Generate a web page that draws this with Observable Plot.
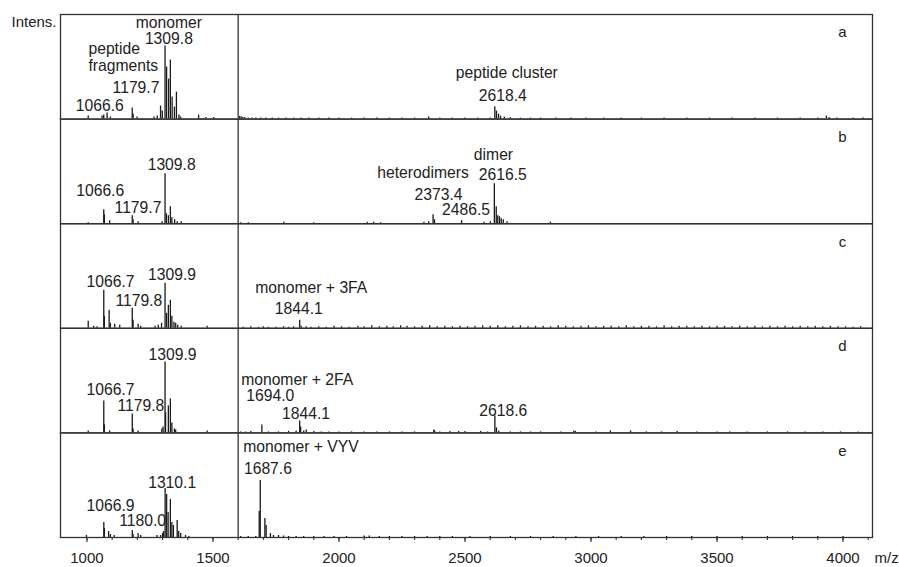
<!DOCTYPE html>
<html><head><meta charset="utf-8">
<script src="https://cdn.jsdelivr.net/npm/d3@7"></script>
<script src="https://cdn.jsdelivr.net/npm/@observablehq/plot@0.6"></script>
<style>
body{margin:0;background:#fff;}
</style>
</head><body><div id="chart"></div>
<script>
const panels = ["a","b","c","d","e"];

// [m/z, intensity] per spectrum
const peaksA = [[1005,3],[1060,3],[1066.6,4],[1080,6],[1093,2],[1179.7,11],[1183,5],[1199,2],[1266,2],[1279,3],[1292,13],[1299,8],[1309.8,73],[1316,52],[1324,40],[1331,59],[1338,22],[1347,12],[1355,27],[1365,4],[1372,2],[1443,4],[1472,1.5],[1503,1.5],
  [1606,2.5],[1612,2],[1618,1.5],[1626,1.5],[1640,1],[1655,1],[1670,1],[1690,1],[1710,1],[1735,1],[1760,1],[1790,1],[1820,1],[1850,1.2],[1880,1],[1920,1],[1960,1],[2000,1],[2050,1],[2100,1],[2150,1],[2200,1],[2250,1],[2300,1],[2356,2],[2400,1],[2450,1],[2500,1],[2550,1],[2600,1],[2618.4,12.3],[2625,8],[2633,5],[2641,3],[2656,2],[2680,1.5],[2720,1],[2760,1],[2800,1],[2860,1],[2920,1],[2980,1],[3050,1],[3120,1],[3200,1],[3290,1],[3380,1],[3470,1],[3560,1],[3650,1],[3740,1],[3830,1],[3900,1],[3934,3],[3945,1.5],[3975,1],[4040,1],[4080,1]];
const peaksB = [[1005,1],[1066.6,14],[1069,9],[1090,3],[1179.7,8],[1183,4],[1203,2],[1298,2],[1309.8,50],[1315,10],[1323,8],[1331,17],[1337,6],[1348,4],[1358,2],[1374,2],
  [1610,1],[1640,1],[1781,1.5],[1900,1],[2112,1.5],[2138,1.5],[2165,1],[2337,1.5],[2356,2],[2373.4,9],[2379,4],[2486.5,3],[2575,1.5],[2601,2],[2616.5,40],[2624,17],[2630,8],[2637,7],[2644,5],[2652,4],[2667,2],[2839,1.5]];
const peaksC = [[1005,7],[1027,2],[1040,1.5],[1066.7,38],[1069,12],[1088,18],[1093,5],[1110,4],[1130,3],[1179.8,20],[1183,8],[1203,4],[1213,2],[1270,2],[1283,3],[1296,5],[1309.9,45],[1316,15],[1323,23],[1331,28],[1337,12],[1345,6],[1352,5],[1360,3],[1374,2],[1477,2],
  [1620,1],[1650,1.5],[1680,1],[1700,1.5],[1720,1],[1750,1],[1780,1.5],[1800,1],[1820,1.5],[1844.1,8],[1850,2],[1870,1.5],[1890,1],[1920,1.5],[1950,1],[1980,2],[2010,1.5],[2040,1],[2075,2],[2100,1.5],[2130,2.5],[2160,1.5],[2190,2],[2215,1.5],[2245,2.5],[2270,2],[2300,1.5],[2330,2],[2360,2.5],[2390,1.5],[2420,2],[2450,1.5],[2480,2],[2510,1.5],[2540,2],[2570,2.5],[2600,2],[2630,2.5],[2660,1.5],[2690,2],[2720,2.5],[2750,1.5],[2780,2],[2810,2],[2840,1.5],[2870,2.5],[2900,2],[2930,1.5],[2960,2],[2990,2.5],[3020,1.5],[3050,2],[3080,2],[3110,1.5],[3140,2.5],[3170,1.5],[3200,2],[3230,2],[3260,1.5],[3290,2.5],[3320,1.5],[3350,2],[3380,2],[3410,1.5],[3440,2],[3470,1.5],[3500,2],[3530,2],[3560,1.5],[3590,2],[3620,1.5],[3650,2],[3680,1.5],[3710,2],[3740,1.5],[3770,2],[3800,1.5],[3830,2],[3860,1.5],[3890,2],[3920,1.5],[3950,2],[3980,1.5],[4010,1.5],[4040,1],[4070,1.5]];
const peaksD = [[1005,2],[1066.7,32],[1069,8],[1090,2],[1179.8,19],[1183,4],[1203,2],[1297,4],[1302,6],[1309.9,71],[1312,20],[1323,27],[1331,34],[1337,10],[1347,4],[1352,3],[1477,2],
  [1610,1],[1630,1],[1650,1.5],[1694.0,8],[1720,1],[1760,1],[1800,1.5],[1830,2],[1844.1,12],[1848,6],[1860,2],[1870,3],[1900,1.5],[1930,1],[1960,1],[2000,1],[2050,1],[2100,1],[2150,1],[2200,1],[2250,1],[2300,1],[2376,3],[2380,2],[2400,1],[2440,1.5],[2475,1.5],[2500,1.5],[2562,1.5],[2590,1],[2618.6,17],[2625,5],[2634,2],[2680,1],[2720,1],[2760,1],[2800,1],[2880,1],[2932,2],[2938,1.5],[3020,1],[3077,2],[3157,2],[3220,1],[3280,1],[3342,1.5],[3420,1],[3500,1],[3550,1],[3620,1],[3700,1],[3780,1],[3850,1],[3920,1],[3990,1],[4060,1]];
const peaksE = [[998,2],[1066.9,15],[1069,9],[1086,6],[1093,3],[1108,2],[1180.0,7],[1183,3],[1203,4],[1213,2],[1278,2],[1292,2],[1300,4],[1304,6],[1310.1,49],[1316,43],[1322,25],[1331,38],[1337,15],[1343,12],[1358,17],[1364,6],[1372,4],[1391,2],[1404,1],
  [1610,1],[1640,1],[1670,1],[1683.5,26],[1687.6,57],[1706,19],[1711,12],[1728,4],[1740,2],[1760,2],[1780,1.5],[1800,1],[1830,1],[1860,1],[1900,1],[1940,1],[1980,1],[2030,1],[2100,1.5],[2120,1.5],[2160,1],[2200,1],[2250,1],[2300,1],[2350,1],[2400,1],[2450,1],[2520,1],[2600,1],[2680,1],[2760,1],[2850,1],[2940,1],[3030,1],[3120,1],[3210,1],[3300,1],[3400,1],[3500,1],[3600,1],[3700,1],[3800,1],[3900,1],[4000,1]];

// annotations: [m/z, intensity, text]
const labelsA = [[1325,96.5,"monomer"],[1325,80.5,"1309.8"],[1108,69.7,"peptide"],[1144,53,"fragments"],[1194.6,30.7,"1179.7"],[1050.6,13,"1066.6"],[2666,46.3,"peptide cluster"],[2649.7,23.3,"2618.4"]];
const labelsB = [[1336,58.5,"1309.8"],[1052.5,33,"1066.6"],[1202.5,15.7,"1179.7"],[2613,68.3,"dimer"],[2650,49,"2616.5"],[2333.5,50.7,"heterodimers"],[2395,28.3,"2373.4"],[2504,13.3,"2486.5"]];
const labelsC = [[1093.4,46.2,"1066.7"],[1337.5,53.5,"1309.9"],[1205.7,27.8,"1179.8"],[1890,40.2,"monomer + 3FA"],[1840.6,19.2,"1844.1"]];
const labelsD = [[1339.4,78.3,"1309.9"],[1093.4,42.6,"1066.7"],[1213.7,26.6,"1179.8"],[1834,52.6,"monomer + 2FA"],[1727.5,36.6,"1694.0"],[1869,19.3,"1844.1"],[2652,21.6,"2618.6"]];
const labelsE = [[1338,55,"1310.1"],[1093.4,31.6,"1066.9"],[1221,16.6,"1180.0"],[1849,90.6,"monomer + VYV"],[1718,69,"1687.6"]];

const majorTicks = [1000,1500,2000,2500,3000,3500,4000];
const minorTicks = [1000,1100,1200,1300,1400,1500,1600,1700,1800,1900,2000,2100,2200,2300,2400,2500,2600,2700,2800,2900,3000,3100,3200,3300,3400,3500,3600,3700,3800,3900,4000,4100];
const splitMz = 1600;

const peakSets = [peaksA, peaksB, peaksC, peaksD, peaksE];
const labelSets = [labelsA, labelsB, labelsC, labelsD, labelsE];
const peaks = panels.flatMap((p, i) => peakSets[i].map(([mz, h]) => ({panel: p, mz, h})));
const labels = panels.flatMap((p, i) => labelSets[i].map(([mz, h, text]) => ({panel: p, mz, h, text})));

const ink = "#222";
const chart = Plot.plot({
  width: 899,
  height: 567,
  marginTop: 14,
  marginBottom: 30,
  marginLeft: 60,
  marginRight: 27,
  style: {fontFamily: "'Liberation Sans', Arial, Helvetica, sans-serif", fontSize: "15px", color: ink, background: "#fff"},
  x: {domain: [895, 4117], label: null},
  y: {domain: [0, 104.6], axis: null},
  fy: {domain: panels, padding: 0, axis: null, round: false},
  marks: [
    Plot.ruleX(peaks, {x: "mz", y1: 0, y2: "h", fy: "panel", stroke: "#1a1a1a", strokeWidth: 1.3}),
    Plot.ruleX([splitMz], {stroke: "#333", strokeWidth: 1.3}),
    Plot.frame({stroke: "#333", strokeWidth: 1.3}),
    Plot.text(labels, {x: "mz", y: "h", text: "text", fy: "panel", fontSize: 15.7, fill: ink, lineAnchor: "middle"}),
    Plot.text(panels, {fy: d => d, text: d => d, frameAnchor: "top-right", dx: -30, dy: 18, textAnchor: "middle", lineAnchor: "middle", fontSize: 15, fill: ink}),
    Plot.text(["Intens."], {fy: () => "a", frameAnchor: "top-left", textAnchor: "end", dx: -4, dy: 7.5, lineAnchor: "middle", fontSize: 15, fill: ink}),
    Plot.text(["m/z"], {fy: () => "e", frameAnchor: "bottom-right", textAnchor: "start", dx: 2, dy: 15, lineAnchor: "top", fontSize: 15, fill: ink}),
    Plot.axisX({ticks: minorTicks, tickSize: 3, text: null, label: null, stroke: "#333", strokeWidth: 1.1}),
    Plot.axisX({ticks: majorTicks, tickSize: 5, text: null, label: null, stroke: "#333", strokeWidth: 1.2}),
    Plot.text(majorTicks, {x: d => d, fy: () => "e", frameAnchor: "bottom", dy: 15, lineAnchor: "top", fontSize: 15, fill: ink, text: d => String(d)})
  ]
});
document.getElementById("chart").appendChild(chart);
</script>
</body></html>
